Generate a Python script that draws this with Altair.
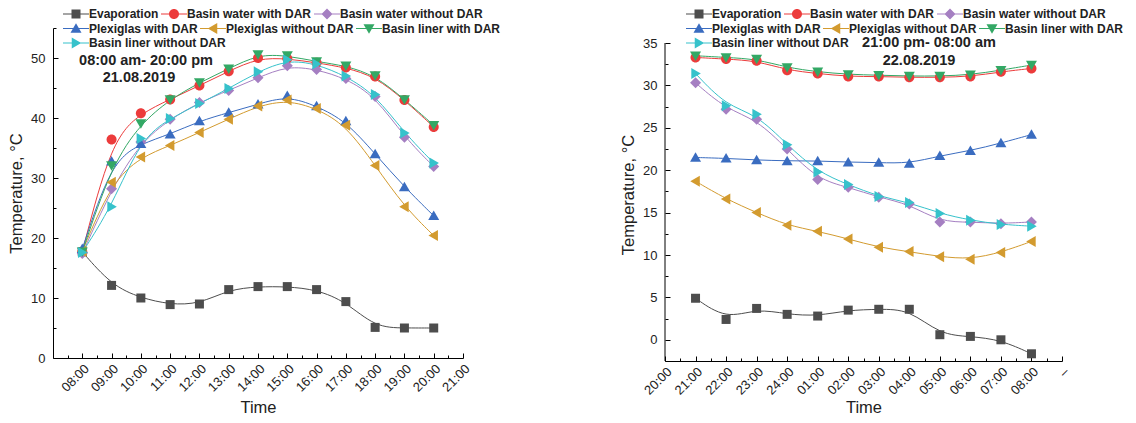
import json
import altair as alt
import pandas as pd

FONT = "Liberation Sans"

series = ["Evaporation", "Basin water with DAR", "Basin water without DAR",
          "Plexiglas with DAR", "Plexiglas without DAR", "Basin liner with DAR",
          "Basin liner without DAR"]
colors = ["#4d4d4d", "#ec3b3b", "#a57fc2", "#3a6cc0", "#d39b2f", "#33a865", "#36c2cb"]
legend_rows = [series[0:3], series[3:6], series[6:7]]

# ---- day panel (21.08.2019) ----
day_hours = [8, 9, 10, 11, 12, 13, 14, 15, 16, 17, 18, 19, 20]
day_tick_labels = ["08:00", "09:00", "10:00", "11:00", "12:00", "13:00", "14:00",
                   "15:00", "16:00", "17:00", "18:00", "19:00", "20:00", "21:00"]
evap_day = [17.7, 12.1, 10.0, 8.9, 9.0, 11.4, 11.9, 11.9, 11.4, 9.4, 5.1, 5.0, 5.0]
bw_dar_day = [17.7, 36.4, 40.8, 43.1, 45.4, 47.8, 50.0, 49.9, 49.2, 48.4, 46.9, 43.0, 38.5]
bw_nodar_day = [17.4, 28.2, 36.0, 39.8, 42.6, 44.6, 46.7, 48.7, 48.1, 46.6, 43.6, 36.8, 31.9]
plex_dar_day = [18.2, 32.8, 35.7, 37.3, 39.5, 40.9, 42.3, 43.7, 42.0, 39.5, 34.0, 28.5, 23.7]
plex_nodar_day = [17.8, 29.3, 33.5, 35.4, 37.6, 39.8, 42.0, 43.0, 41.6, 38.8, 32.1, 25.2, 20.4]
liner_dar_day = [17.7, 32.1, 39.1, 43.1, 45.9, 48.2, 50.6, 50.4, 49.4, 48.7, 47.1, 43.1, 38.8]
liner_nodar_day = [17.6, 25.2, 36.6, 39.9, 42.4, 44.9, 47.7, 49.7, 49.0, 47.0, 43.9, 37.5, 32.5]
day_note = ["08:00 am- 20:00 pm", "21.08.2019"]

# ---- night panel (22.08.2019) ----
night_slots = [1, 2, 3, 4, 5, 6, 7, 8, 9, 10, 11, 12]
night_tick_labels = ["20:00", "21:00", "22:00", "23:00", "24:00", "01:00", "02:00",
                     "03:00", "04:00", "05:00", "06:00", "07:00", "08:00", "\u2013"]
evap_night = [4.9, 2.4, 3.7, 3.0, 2.8, 3.5, 3.6, 3.6, 0.6, 0.4, 0.0, -1.65]
bw_dar_night = [33.3, 33.1, 32.9, 31.8, 31.4, 31.05, 31.05, 30.95, 30.95, 31.05, 31.6, 32.0]
bw_nodar_night = [30.3, 27.2, 26.0, 22.5, 18.9, 18.0, 16.8, 16.0, 13.9, 13.9, 13.7, 13.9]
plex_dar_night = [21.5, 21.4, 21.2, 21.1, 21.1, 20.95, 20.9, 20.8, 21.7, 22.3, 23.2, 24.2]
plex_nodar_night = [18.7, 16.6, 15.0, 13.5, 12.8, 11.9, 10.9, 10.4, 9.8, 9.5, 10.3, 11.6]
liner_dar_night = [33.5, 33.3, 33.1, 32.1, 31.6, 31.3, 31.2, 31.1, 31.1, 31.25, 31.8, 32.4]
liner_nodar_night = [31.4, 27.6, 26.6, 23.0, 19.8, 18.3, 16.9, 16.2, 14.9, 14.1, 13.6, 13.4]
night_note = ["21:00 pm- 08:00 am", "22.08.2019"]

# marker shapes (unit paths) and legend symbols (line through marker)
marker_paths = [
    "M-0.9,-0.9H0.9V0.9H-0.9Z",
    "M1,0A1,1 0 1,1 -1,0A1,1 0 1,1 1,0Z",
    "M0,-1.1L1.1,0L0,1.1L-1.1,0Z",
    "M0,-1.05L1.1,0.85L-1.1,0.85Z",
    "M-1.05,0L0.85,-1.1L0.85,1.1Z",
    "M0,1.05L-1.1,-0.85L1.1,-0.85Z",
    "M1.05,0L-0.85,1.1L-0.85,-1.1Z",
]
LINE = "M-2.6,-0.1H2.6V0.1H-2.6Z"
legend_paths = [LINE + " " + p for p in marker_paths]


def make_df(xs, lists):
    rows = []
    for s, vals in zip(series, lists):
        for x, v in zip(xs, vals):
            rows.append({"t": x, "v": v, "series": s})
    return pd.DataFrame(rows)


def panel(df, W, H, xdom, ydom, xmaj, xmin, ymaj, ymin, xlabels, xbase,
          lx, ly, notes, note_pos, y_axis_top=None, xlab_pad=4, xtitle_pad=5):
    xs = alt.Scale(domain=xdom, nice=False, zero=False)
    ys = alt.Scale(domain=ydom, nice=False, zero=False)
    label_expr = json.dumps(xlabels) + "[round(datum.value) - %d]" % xbase

    ax_x = alt.Axis(values=xmaj, labelExpr=label_expr, labelAngle=-45, ticks=False,
                    grid=False, title="Time", labelFontSize=13, titleFontSize=16.5,
                    labelPadding=xlab_pad, titlePadding=xtitle_pad, domainColor="#000",
                    labelOverlap=False)
    ax_y = alt.Axis(values=ymaj, ticks=False, grid=False, title="Temperature, \u00b0C",
                    labelFontSize=13, titleFontSize=16.5, labelPadding=8,
                    titlePadding=6, domainColor="#000", labelOverlap=False,
                    domain=(y_axis_top is None))

    def tick_axis(orient, vals, size):
        return alt.Axis(orient=orient, offset=-size, values=vals, labels=False,
                        domain=False, ticks=True, tickSize=size, tickColor="#000",
                        tickWidth=1, title=None, grid=False, minExtent=0)

    lines = alt.Chart(df).mark_line(interpolate="basis", strokeWidth=1).encode(
        x=alt.X("t:Q", scale=xs, axis=ax_x),
        y=alt.Y("v:Q", scale=ys, axis=ax_y),
        stroke=alt.Stroke("series:N", scale=alt.Scale(domain=series, range=colors),
                          legend=None),
    )
    points = alt.Chart(df).mark_point(filled=True, size=100, opacity=1).encode(
        x=alt.X("t:Q", scale=xs, axis=tick_axis("bottom", xmaj, 5)),
        y=alt.Y("v:Q", scale=ys, axis=tick_axis("left", ymaj, 5)),
        color=alt.Color("series:N", scale=alt.Scale(domain=series, range=colors),
                        legend=None),
        shape=alt.Shape("series:N", scale=alt.Scale(domain=series, range=marker_paths),
                        legend=None),
    )
    layers = [lines, points]
    # one legend per legend row (entries flow left to right like the original)
    for k, row in enumerate(legend_rows):
        idx = [series.index(s) for s in row]
        leg = alt.Legend(orient="none", legendX=lx, legendY=ly + 14.5 * k,
                         direction="horizontal", columns=len(row),
                         title=None, labelFont=FONT, labelFontWeight="bold",
                         labelFontSize=12, labelColor="#222", symbolSize=100,
                         symbolStrokeWidth=0, symbolOffset=0, labelOffset=7,
                         columnPadding=2, padding=0, labelLimit=300)
        cs = alt.Scale(domain=row, range=[colors[i] for i in idx])
        ss = alt.Scale(domain=row, range=[legend_paths[i] for i in idx])
        first = k == 0
        layers.append(
            alt.Chart(df).transform_filter(
                alt.FieldOneOfPredicate(field="series", oneOf=row)
            ).transform_calculate(off="-1000").mark_point(
                filled=True, size=100, opacity=1, clip=True).encode(
                x=alt.X("t:Q", scale=xs,
                        axis=tick_axis("bottom", xmin, 3) if first else None),
                y=alt.Y("off:Q", scale=ys,
                        axis=tick_axis("left", ymin, 3) if first else None),
                color=alt.Color("series:N", scale=cs, legend=leg),
                shape=alt.Shape("series:N", scale=ss, legend=leg),
            )
        )
    if y_axis_top is not None:
        layers.append(
            alt.Chart(pd.DataFrame({"a": [0]})).mark_rule(color="#000", strokeWidth=1).encode(
                x=alt.X(datum=xdom[0], scale=xs, axis=None),
                y=alt.Y(datum=ydom[0], scale=ys, axis=None),
                y2=alt.Y2(datum=y_axis_top))
        )
    for txt, (px, py) in zip(notes, note_pos):
        layers.append(
            alt.Chart(pd.DataFrame({"note": [txt]})).mark_text(
                font=FONT, fontWeight="bold", fontSize=14.5, color="#222",
                align="center", baseline="middle").encode(
                x=alt.value(px), y=alt.value(py), text="note:N")
        )
    return alt.layer(*layers).resolve_axis(x="independent", y="independent").resolve_scale(
        color="independent", shape="independent", stroke="independent").resolve_legend(
        color="independent", shape="independent").properties(width=W, height=H)


day_df = make_df(day_hours, [evap_day, bw_dar_day, bw_nodar_day, plex_dar_day,
                             plex_nodar_day, liner_dar_day, liner_nodar_day])
night_df = make_df(night_slots, [evap_night, bw_dar_night, bw_nodar_night, plex_dar_night,
                                 plex_nodar_night, liner_dar_night, liner_nodar_night])

left = panel(day_df, 410, 330, [7, 21], [0, 55],
             list(range(8, 22)), [7.5 + i for i in range(14)],
             [0, 10, 20, 30, 40, 50], [5, 15, 25, 35, 45, 55],
             day_tick_labels, 8, 17, -20, day_note, [(93, 33), (86, 50)],
             xlab_pad=4, xtitle_pad=5)
# the night plot area starts 15 px lower: extend the domain above 35 and draw the
# axis line only up to 35
right = panel(night_df, 397, 333, [0, 13], [-2.5, 36.77],
              list(range(0, 14)), [0.5 + i for i in range(13)],
              [0, 5, 10, 15, 20, 25, 30, 35], [-2.5, 2.5, 7.5, 12.5, 17.5, 22.5, 27.5, 32.5],
              night_tick_labels, 0, 28, -20, night_note, [(264, 15), (254, 33)],
              y_axis_top=35, xlab_pad=4, xtitle_pad=2)

chart = alt.hconcat(left, right, spacing=202, bounds="flush").properties(
    padding={"left": 0, "top": 0, "right": 0, "bottom": -1}
).configure_view(stroke=None).configure_axis(
    labelFont=FONT, titleFont=FONT, labelColor="#222", titleColor="#222",
    tickColor="#000", titleFontWeight="normal")

chart.save("out.html", embed_options={"renderer": "svg", "actions": False})
